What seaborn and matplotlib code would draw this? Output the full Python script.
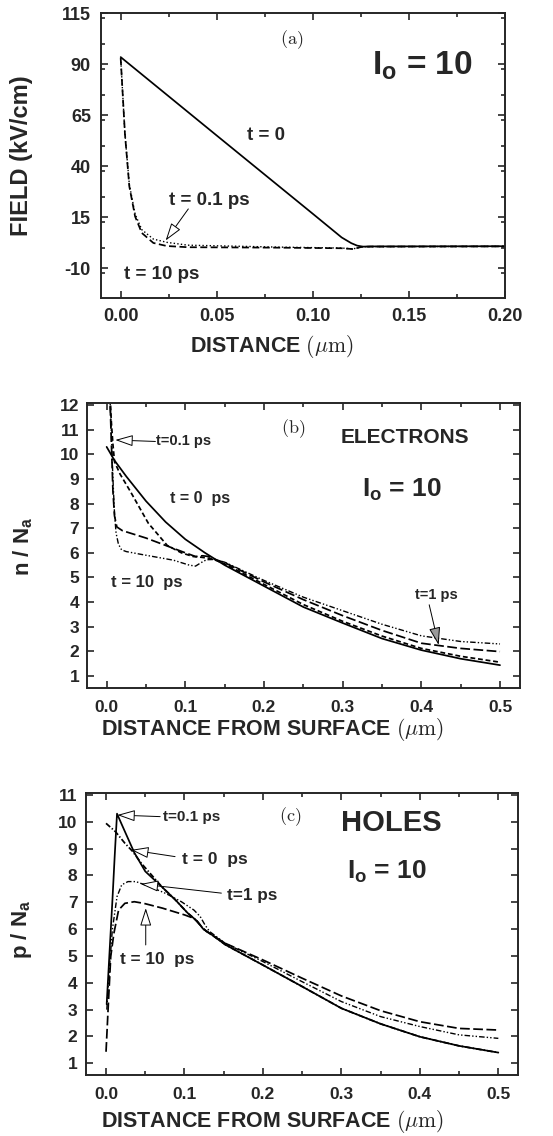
import matplotlib
matplotlib.use('Agg')
import matplotlib.pyplot as plt
from matplotlib.ticker import MultipleLocator, FormatStrFormatter
import seaborn as sns

# panel (a): field vs distance
a_x_t0 = [0, 0.05, 0.10, 0.115, 0.12, 0.123, 0.126, 0.13, 0.20]
a_y_t0 = [93.5, 55, 16.6, 5.0, 2.2, 1.0, 0.5, 0.6, 0.7]
a_x_late = [0, 0.0022, 0.0045, 0.0075, 0.011, 0.017, 0.024, 0.035, 0.08, 0.115, 0.121, 0.1255, 0.13, 0.2]
a_y_t10 = [93, 56, 30, 15.3, 7.2, 2.3, 0.8, 0.2, 0.0, -0.3, -0.7, 0.4, 0.5, 0.6]
a_y_t01 = [93, 56, 31, 16.5, 8.8, 4.2, 2.6, 1.2, 0.3, -0.2, -0.6, 0.4, 0.5, 0.6]

# panel (b): electrons
b_x_t0 = [0, 0.01, 0.025, 0.05, 0.075, 0.1, 0.125, 0.15, 0.2, 0.25, 0.3, 0.35, 0.4, 0.45, 0.5]
b_y_t0 = [10.3, 9.75, 9.1, 8.1, 7.25, 6.55, 6.0, 5.5, 4.65, 3.8, 3.15, 2.52, 2.05, 1.7, 1.44]
b_x_t01 = [0.004, 0.006, 0.008, 0.010, 0.017, 0.03, 0.053, 0.077, 0.095, 0.11, 0.12, 0.13, 0.137,
           0.15, 0.2, 0.25, 0.3, 0.35, 0.4, 0.45, 0.5]
b_y_t01 = [12.6, 11.3, 10.4, 9.7, 9.2, 8.5, 7.2, 6.3, 6.0, 5.85, 5.82, 5.78, 5.72,
           5.55, 4.72, 3.9, 3.22, 2.62, 2.12, 1.8, 1.56]
b_x_t1 = [0.004, 0.006, 0.008, 0.010, 0.013, 0.02, 0.03, 0.05, 0.075, 0.1, 0.113, 0.122, 0.13, 0.137,
          0.15, 0.2, 0.25, 0.3, 0.35, 0.4, 0.45, 0.5]
b_y_t1 = [12.5, 10.5, 8.5, 7.5, 7.05, 6.9, 6.8, 6.6, 6.3, 6.0, 5.85, 5.88, 5.85, 5.74,
          5.6, 4.82, 4.1, 3.45, 2.85, 2.33, 2.12, 1.99]
b_x_t10 = [0.004, 0.006, 0.008, 0.010, 0.012, 0.015, 0.019, 0.025, 0.045, 0.085, 0.105, 0.113, 0.12,
           0.127, 0.137, 0.15, 0.2, 0.25, 0.3, 0.35, 0.4, 0.45, 0.5]
b_y_t10 = [12.5, 10.8, 9.0, 7.6, 6.8, 6.35, 6.12, 6.05, 5.93, 5.7, 5.5, 5.46, 5.6,
           5.72, 5.73, 5.62, 4.88, 4.2, 3.65, 3.1, 2.63, 2.4, 2.3]

# panel (c): holes
c_x_t01 = [0.0008, 0.004, 0.008, 0.011, 0.014, 0.02, 0.036, 0.05, 0.072, 0.088, 0.104, 0.116, 0.124,
           0.132, 0.152, 0.2, 0.25, 0.3, 0.35, 0.4, 0.45, 0.5]
c_y_t01 = [3.2, 4.9, 7.0, 8.7, 10.3, 9.9, 8.85, 8.15, 7.55, 7.1, 6.6, 6.3, 6.0,
           5.85, 5.42, 4.66, 3.86, 3.05, 2.47, 1.99, 1.65, 1.40]
c_x_t0 = [0, 0.012, 0.024, 0.034, 0.045, 0.072, 0.088, 0.104, 0.116, 0.124, 0.132, 0.152,
          0.2, 0.25, 0.3, 0.35, 0.4, 0.45, 0.5]
c_y_t0 = [9.94, 9.63, 9.2, 8.89, 8.45, 7.55, 7.1, 6.6, 6.3, 6.0, 5.85, 5.42,
          4.66, 3.86, 3.05, 2.47, 1.99, 1.65, 1.40]
c_x_t1 = [0.001, 0.004, 0.008, 0.014, 0.02, 0.028, 0.038, 0.056, 0.076, 0.096, 0.112, 0.12, 0.126,
          0.132, 0.152, 0.2, 0.25, 0.3, 0.35, 0.4, 0.45, 0.5]
c_y_t1 = [3.0, 4.4, 5.97, 7.21, 7.65, 7.77, 7.77, 7.58, 7.33, 7.02, 6.71, 6.47, 6.16,
          5.91, 5.47, 4.79, 4.04, 3.30, 2.74, 2.37, 2.06, 1.93]
c_x_t10 = [0, 0.003, 0.006, 0.01, 0.016, 0.024, 0.036, 0.048, 0.072, 0.1, 0.112, 0.122, 0.128,
           0.152, 0.2, 0.25, 0.3, 0.35, 0.4, 0.45, 0.5]
c_y_t10 = [1.43, 3.24, 4.98, 5.84, 6.71, 6.96, 7.02, 6.96, 6.78, 6.53, 6.4, 6.09, 5.91,
           5.47, 4.85, 4.17, 3.51, 2.96, 2.55, 2.30, 2.24]

sns.set_style('ticks')
plt.rcParams['font.family'] = ['Liberation Sans', 'DejaVu Sans']
plt.rcParams['font.weight'] = 'bold'
plt.rcParams['axes.labelweight'] = 'bold'
plt.rcParams['axes.unicode_minus'] = False
plt.rcParams['mathtext.fontset'] = 'custom'
plt.rcParams['mathtext.rm'] = 'Liberation Sans:bold'
plt.rcParams['mathtext.bf'] = 'Liberation Sans:bold'
plt.rcParams['mathtext.it'] = 'Liberation Sans:bold'
plt.rcParams['lines.scale_dashes'] = False
plt.rcParams['axes.linewidth'] = 1.4

LONG = (0, (7, 2.5))
SHORT = (0, (3.5, 2))
DDOT = (0, (4, 1.5, 1, 1.5, 1, 1.5))
DOTS = (0, (1, 1.6))
DASHDOT = (0, (4, 1.5, 1, 1.5))


def curve(ax, x, y, ls='-', lw=1.25):
    sns.lineplot(x=x, y=y, ax=ax, color='black', linestyle=ls, linewidth=lw,
                 estimator=None, sort=False)


def arrow(ax, tip, tail, fc='white'):
    ax.annotate('', xy=tip, xytext=tail,
                arrowprops=dict(arrowstyle='-|>,head_length=1.1,head_width=0.35',
                                fc=fc, ec='black', lw=0.7, shrinkA=0, shrinkB=0))


def style_axes(ax, fs, pad_x, pad_y):
    ax.tick_params(which='both', direction='in', top=True, right=True,
                   labelsize=fs, width=1.2)
    ax.tick_params(which='major', length=5)
    ax.tick_params(which='minor', length=3)
    ax.tick_params(axis='x', pad=pad_x)
    ax.tick_params(axis='y', pad=pad_y)
    for lab in ax.get_xticklabels() + ax.get_yticklabels():
        lab.set_fontweight('bold')


fig = plt.figure(figsize=(5.53, 11.36), dpi=100)

# ---------- (a)
ax1 = fig.add_axes([0.1821, 0.7377, 0.7311, 0.2506])
curve(ax1, a_x_t0, a_y_t0, '-')
curve(ax1, a_x_late, a_y_t01, DOTS, 1.0)
curve(ax1, a_x_late, a_y_t10, (0, (5, 2.5)))
ax1.set_xlim(-0.0104, 0.2)
ax1.set_ylim(-24.7, 115)
ax1.xaxis.set_major_locator(MultipleLocator(0.05))
ax1.xaxis.set_minor_locator(MultipleLocator(0.025))
ax1.set_yticks([-10, 15, 40, 65, 90, 115])
ax1.yaxis.set_minor_locator(MultipleLocator(12.5))
ax1.xaxis.set_major_formatter(FormatStrFormatter('%.2f'))
style_axes(ax1, 13, 7, 7)
ax1.set_xlabel(r'DISTANCE $(\mu\mathrm{m})$', fontsize=15.5, math_fontfamily='cm',
               va='center')
ax1.xaxis.set_label_coords(0.423, -0.171)
ax1.set_ylabel('FIELD (kV/cm)', fontsize=17, va='center')
ax1.yaxis.set_label_coords(-0.195, 0.5)
ax1.text(0.0755, 54.9, 't = 0', fontsize=13.5, ha='center', va='center')
ax1.text(0.046, 23.1, 't = 0.1 ps', fontsize=13.5, ha='center', va='center')
ax1.text(0.0214, -13.1, 't = 10 ps', fontsize=13.5, ha='center', va='center')
arrow(ax1, (0.0234, 3.5), (0.0352, 19))
ax1.text(0.089, 102.2, r'$\mathrm{(a)}$', fontsize=13, math_fontfamily='cm',
         ha='center', va='center')
ax1.text(0.1568, 89.2, r'I$_\mathrm{o}$ = 10', fontsize=24, ha='center', va='center')

# ---------- (b)
ax2 = fig.add_axes([0.1567, 0.3941, 0.7836, 0.2509])
curve(ax2, b_x_t0, b_y_t0, '-')
curve(ax2, b_x_t01, b_y_t01, SHORT)
curve(ax2, b_x_t1, b_y_t1, LONG)
curve(ax2, b_x_t10, b_y_t10, DDOT, 1.0)
ax2.set_xlim(-0.0254, 0.5254)
ax2.set_ylim(0.5, 12.07)
ax2.set_xticks([0, 0.1, 0.2, 0.3, 0.4, 0.5])
ax2.xaxis.set_minor_locator(MultipleLocator(0.05))
ax2.set_yticks(range(1, 13))
ax2.xaxis.set_major_formatter(FormatStrFormatter('%.1f'))
style_axes(ax2, 12.5, 8.5, 5.3)
ax2.set_xlabel(r'DISTANCE FROM SURFACE $(\mu\mathrm{m})$', fontsize=15.5,
               math_fontfamily='cm', va='center')
ax2.xaxis.set_label_coords(0.429, -0.146)
ax2.set_ylabel(r'n / N$_\mathrm{a}$', fontsize=16, va='center')
ax2.yaxis.set_label_coords(-0.146, 0.497)
ax2.text(0.098, 10.52, 't=0.1 ps', fontsize=10.5, ha='center', va='center')
arrow(ax2, (0.011, 10.58), (0.062, 10.52))
ax2.text(0.1186, 8.21, 't = 0  ps', fontsize=11.5, ha='center', va='center')
ax2.text(0.0508, 4.8, 't = 10  ps', fontsize=12, ha='center', va='center')
ax2.text(0.419, 4.29, 't=1 ps', fontsize=10.5, ha='center', va='center')
arrow(ax2, (0.422, 2.26), (0.41, 3.89), fc='#9a9a9a')
ax2.text(0.237, 11.05, r'$\mathrm{(b)}$', fontsize=13, math_fontfamily='cm',
         ha='center', va='center')
ax2.text(0.379, 10.69, 'ELECTRONS', fontsize=15, ha='center', va='center')
ax2.text(0.375, 8.55, r'I$_\mathrm{o}$ = 10', fontsize=19, ha='center', va='center')

# ---------- (c)
ax3 = fig.add_axes([0.155, 0.0537, 0.7823, 0.248])
curve(ax3, c_x_t10, c_y_t10, LONG)
curve(ax3, c_x_t1, c_y_t1, DDOT, 1.0)
curve(ax3, c_x_t0, c_y_t0, DASHDOT)
curve(ax3, c_x_t01, c_y_t01, '-')
ax3.set_xlim(-0.0259, 0.5255)
ax3.set_ylim(0.565, 11.06)
ax3.set_xticks([0, 0.1, 0.2, 0.3, 0.4, 0.5])
ax3.xaxis.set_minor_locator(MultipleLocator(0.05))
ax3.set_yticks(range(1, 12))
ax3.xaxis.set_major_formatter(FormatStrFormatter('%.1f'))
style_axes(ax3, 12.5, 9, 6)
ax3.set_xlabel(r'DISTANCE FROM SURFACE $(\mu\mathrm{m})$', fontsize=15.5,
               math_fontfamily='cm', va='center')
ax3.xaxis.set_label_coords(0.432, -0.166)
ax3.set_ylabel(r'p / N$_\mathrm{a}$', fontsize=16, va='center')
ax3.yaxis.set_label_coords(-0.148, 0.515)
ax3.text(0.109, 10.17, 't=0.1 ps', fontsize=11, ha='center', va='center')
arrow(ax3, (0.0144, 10.25), (0.069, 10.19))
ax3.text(0.139, 8.61, 't = 0  ps', fontsize=12.5, ha='center', va='center')
arrow(ax3, (0.0319, 8.95), (0.088, 8.70))
ax3.text(0.1857, 7.24, 't=1 ps', fontsize=12.3, ha='center', va='center')
arrow(ax3, (0.0442, 7.68), (0.147, 7.34))
ax3.text(0.0646, 4.88, 't = 10  ps', fontsize=12.4, ha='center', va='center')
arrow(ax3, (0.0506, 6.78), (0.0506, 5.41))
ax3.text(0.235, 10.19, r'$\mathrm{(c)}$', fontsize=13, math_fontfamily='cm',
         ha='center', va='center')
ax3.text(0.364, 9.94, 'HOLES', fontsize=21, ha='center', va='center')
ax3.text(0.358, 8.14, r'I$_\mathrm{o}$ = 10', fontsize=19, ha='center', va='center')

fig.savefig('out.png', dpi=100)
